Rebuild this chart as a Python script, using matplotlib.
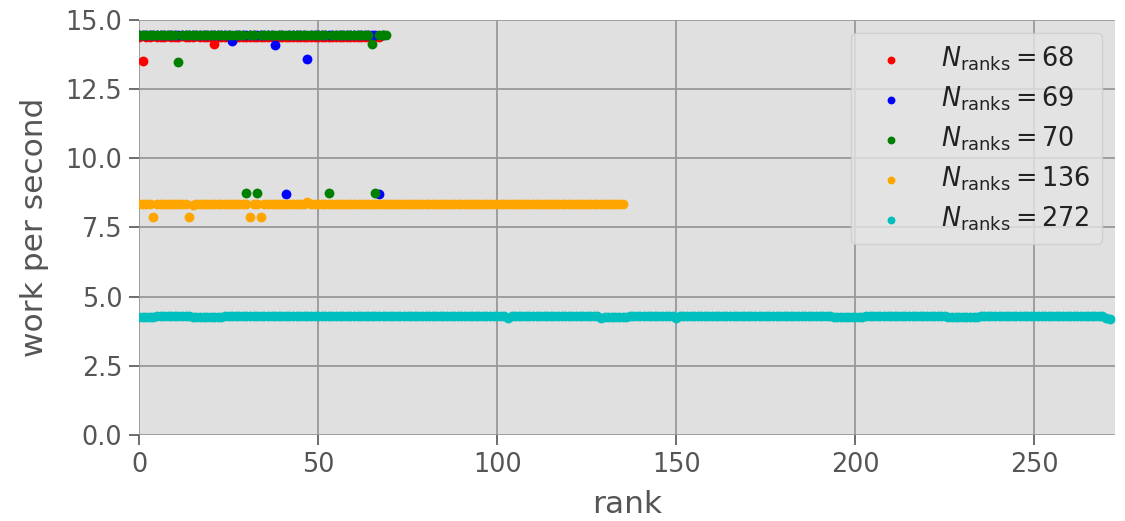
import numpy as np
import matplotlib
matplotlib.use("Agg")
import matplotlib.pyplot as plt

# ---- data ----
n_ranks = [68, 69, 70, 136, 272]
colors = ["red", "blue", "green", "orange", "c"]

wps_68 = ([14.40] * 1 + [13.52] + [14.40, 14.38, 14.41, 14.40, 14.39, 14.40, 14.41, 14.40,
          14.39, 14.40, 14.41, 14.40, 14.38, 14.40, 14.41, 14.40, 14.39, 14.40, 14.40]
          + [14.13] + [14.40] * 46)
wps_69 = ([14.45] * 26 + [14.25] + [14.45] * 11 + [14.08] + [14.45] * 2 + [8.72]
          + [14.45] * 5 + [13.58] + [14.45] * 19 + [8.72] + [14.45])
wps_70 = ([14.46] * 11 + [13.48] + [14.46] * 18 + [8.74] + [14.46] * 2 + [8.74]
          + [14.46] * 19 + [8.74] + [14.46] * 11 + [14.15] + [8.74] + [14.46] * 3)
wps_136 = ([8.35] * 4 + [7.87] + [8.35] * 9 + [7.87] + [8.33] + [8.35] * 15 + [7.87]
           + [8.35] * 2 + [7.87] + [8.35] * 12 + [8.42] + [8.35] * 88)
wps_272 = ([4.26] * 5 + [4.30] * 10 + [4.26] * 9 + [4.30] * 79 + [4.22] + [4.30] * 25
           + [4.22] + [4.26] * 7 + [4.30] * 13 + [4.23] + [4.30] * 43 + [4.27] * 9
           + [4.30] * 23 + [4.26] * 9 + [4.30] * 35 + [4.24] + [4.18])
series = [wps_68, wps_69, wps_70, wps_136, wps_272]

yticks = [0.0, 2.5, 5.0, 7.5, 10.0, 12.5, 15.0]
xticks = [0, 50, 100, 150, 200, 250]

plt.rcParams["mathtext.fontset"] = "dejavusans"

fig = plt.figure(figsize=(11.25, 5.21), dpi=100)
ax = fig.add_axes([0.1236, 0.1651, 0.9911 - 0.1236, 0.9616 - 0.1651])
ax.set_facecolor("#E0E0E0")
for s in ax.spines.values():
    s.set_visible(False)

for n, vals, col in zip(n_ranks, series, colors):
    ranks = np.arange(len(vals))
    ax.scatter(ranks, vals, s=50, color=col, linewidths=0,
               label=r"$N_{\mathrm{ranks}} = %d$" % n, zorder=3)

ax.set_xlim(0, 272.5)
ax.set_ylim(0, 15)
ax.set_xticks(xticks)
ax.set_yticks(yticks)
ax.set_yticklabels(["%.1f" % v for v in yticks])
ax.grid(True, color="#989898", linewidth=1.3, zorder=0)
ax.set_axisbelow(True)
ax.tick_params(axis="both", labelsize=18.4, colors="#555555", length=7, width=1.2,
               direction="out", pad=5)
ax.set_xlabel("rank", fontsize=22.5, color="#555555", labelpad=9)
ax.set_ylabel("work per second", fontsize=22.5, color="#555555", labelpad=12)

leg = ax.legend(loc="upper right", fontsize=18.4, markerscale=0.8, frameon=True,
                facecolor="#E5E5E5", edgecolor="#cccccc", framealpha=0.8,
                borderpad=0.45, handlelength=2.3, labelspacing=0.45)
for t in leg.get_texts():
    t.set_color("#222222")

fig.savefig("out.png", dpi=100)
